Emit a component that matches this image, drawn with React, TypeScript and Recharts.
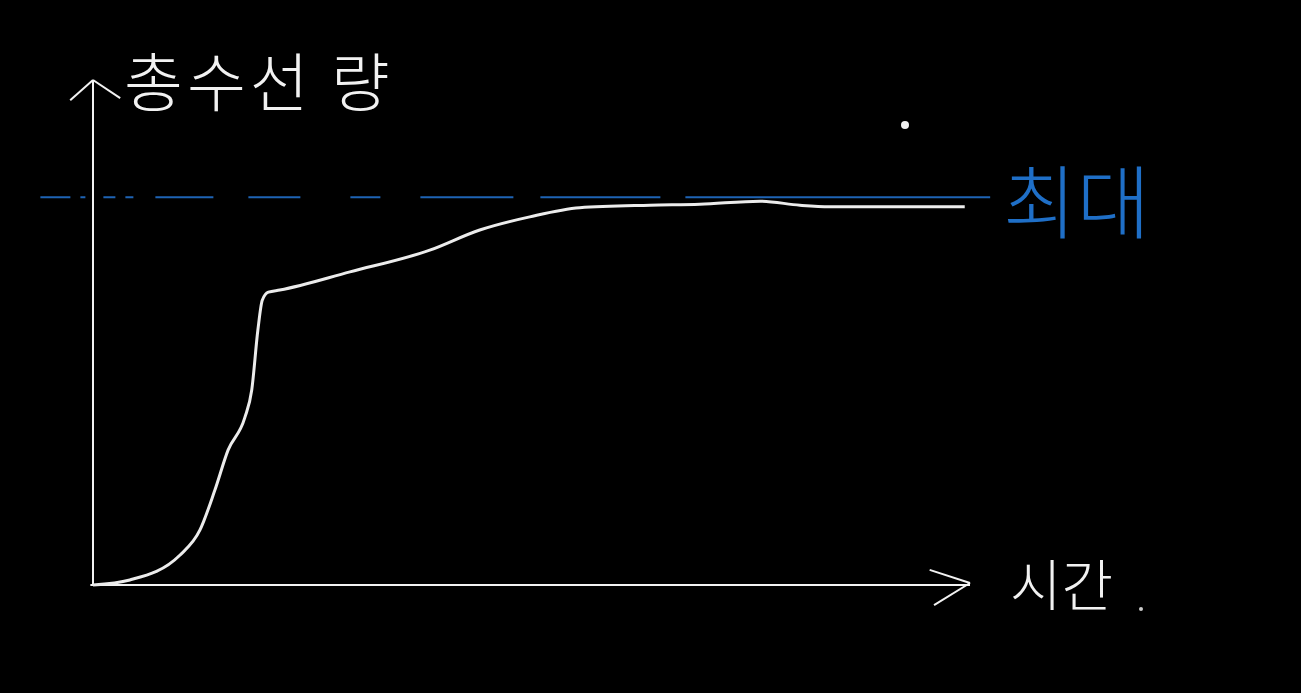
import React from 'react';
import { LineChart, Line, XAxis, YAxis, ReferenceLine, Customized } from 'recharts';

const timeValues = [0, 4.2, 9.9, 12.2, 13.9, 15.4, 17.3, 18.1, 18.8, 19.3, 20.0, 21.3, 29.3, 38.4, 44.1, 49.8, 55.5, 63.5, 69.2, 76.1, 80.6, 84.0, 99.4];
const doseValues = [0, 1.0, 5.9, 10.9, 18.8, 26.7, 33.1, 38.6, 50.5, 56.4, 58.0, 58.4, 62.0, 66.3, 70.3, 72.9, 74.7, 75.2, 75.4, 76.0, 75.2, 74.9, 74.9];
const maxLevel = 76.8;
const yLabel = '총수선 량';
const xLabel = '시간';
const maxLabel = '최대';

const data = timeValues.map((t, i) => ({ t, v: doseValues[i] }));

const W = 1301;
const H = 693;
const M = { top: 80, right: 331, bottom: 108, left: 93 };

const Texts = () => (
  <g style={{ fontFamily: '"Noto Sans CJK KR", sans-serif' }}>
    <text x={124} y={106} fill="#f2f2f2" fontSize={64} fontWeight={300} letterSpacing={4}>{yLabel}</text>
    <text x={1003} y={232} fill="#1f6fc7" fontSize={80} fontWeight={300}>{maxLabel}</text>
    <text x={1010} y={606} fill="#f2f2f2" fontSize={56} fontWeight={300}>{xLabel}</text>
    <circle cx={905} cy={125} r={4} fill="#f2f2f2" />
    <circle cx={1141} cy={609} r={2} fill="#cccccc" />
  </g>
);

export default function App() {
  return (
    <div style={{ position: 'fixed', left: 0, top: 0, width: W, height: H, background: '#000' }}>
      <LineChart width={W} height={H} data={data} margin={M}>
        <XAxis dataKey="t" type="number" domain={[0, 100]} hide />
        <YAxis type="number" domain={[0, 100]} hide />
        <ReferenceLine segment={[{ x: 0, y: 0 }, { x: 0, y: 100 }]} stroke="#f2f2f2" strokeWidth={2} ifOverflow="visible" />
        <ReferenceLine segment={[{ x: -0.3, y: 0 }, { x: 100, y: 0 }]} stroke="#f2f2f2" strokeWidth={2} ifOverflow="visible" />
        <ReferenceLine segment={[{ x: 0, y: 100 }, { x: -2.6, y: 96.0 }]} stroke="#f2f2f2" strokeWidth={2} ifOverflow="visible" />
        <ReferenceLine segment={[{ x: 0, y: 100 }, { x: 3.1, y: 96.4 }]} stroke="#f2f2f2" strokeWidth={2} ifOverflow="visible" />
        <ReferenceLine segment={[{ x: 95.4, y: 3.0 }, { x: 100, y: 0.4 }]} stroke="#f2f2f2" strokeWidth={2} ifOverflow="visible" />
        <ReferenceLine segment={[{ x: 100, y: 0.4 }, { x: 95.9, y: -4.0 }]} stroke="#f2f2f2" strokeWidth={2} ifOverflow="visible" />
        <ReferenceLine segment={[{ x: -6.0, y: maxLevel }, { x: 102.3, y: maxLevel }]} stroke="#1e63b4" strokeWidth={2} strokeDasharray="30 10 5 18 12 10 8 22 58 35 52 50 30 40 93 27 120 25 400 10" ifOverflow="visible" />
        <Line dataKey="v" type="monotone" stroke="#ececec" strokeWidth={3} dot={false} isAnimationActive={false} />
        <Customized component={Texts} />
      </LineChart>
    </div>
  );
}
